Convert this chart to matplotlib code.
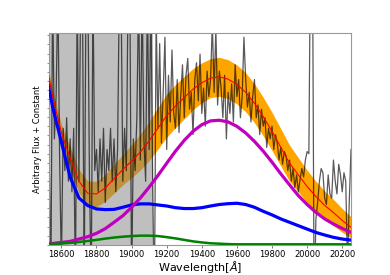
"""Spectrum with fitted model components around 19500 A."""

import matplotlib

matplotlib.use("Agg")
import matplotlib.pyplot as plt
import numpy as np
from matplotlib.ticker import MultipleLocator

# Model grid (Angstrom)
model_wl = [
  18500, 18550, 18600, 18650, 18700, 18750, 18800, 18850, 18900, 18950,
  19000, 19050, 19100, 19150, 19200, 19250, 19300, 19350, 19400, 19450,
  19500, 19550, 19600, 19650, 19700, 19750, 19800, 19850, 19900, 19950,
  20000, 20050, 20100, 20150, 20200, 20250,
]

# Total model (red) and its uncertainty (orange band)
model_total = [
  0.920, 0.700, 0.530, 0.410, 0.300, 0.243, 0.240, 0.268, 0.312, 0.355,
  0.395, 0.438, 0.490, 0.550, 0.610, 0.655, 0.695, 0.735, 0.765, 0.787,
  0.793, 0.782, 0.757, 0.720, 0.668, 0.605, 0.535, 0.460, 0.385, 0.330,
  0.275, 0.228, 0.186, 0.152, 0.115, 0.082,
]
model_err = [
  0.020, 0.030, 0.040, 0.050, 0.055, 0.058, 0.060, 0.063, 0.068, 0.072,
  0.078, 0.085, 0.092, 0.098, 0.102, 0.102, 0.100, 0.097, 0.094, 0.092,
  0.092, 0.092, 0.092, 0.092, 0.092, 0.091, 0.090, 0.088, 0.085, 0.081,
  0.077, 0.072, 0.067, 0.062, 0.056, 0.050,
]

# Components
comp_blue = [
  0.856, 0.651, 0.485, 0.319, 0.221, 0.185, 0.169, 0.166, 0.167, 0.177,
  0.188, 0.193, 0.193, 0.188, 0.183, 0.175, 0.171, 0.171, 0.175, 0.183,
  0.190, 0.194, 0.196, 0.190, 0.177, 0.158, 0.141, 0.122, 0.106, 0.090,
  0.074, 0.058, 0.046, 0.035, 0.027, 0.022,
]
comp_magenta = [
  0.002, 0.006, 0.011, 0.016, 0.027, 0.038, 0.054, 0.076, 0.106, 0.137,
  0.177, 0.221, 0.272, 0.327, 0.385, 0.442, 0.493, 0.536, 0.567, 0.585,
  0.588, 0.580, 0.559, 0.528, 0.488, 0.442, 0.390, 0.335, 0.283, 0.232,
  0.190, 0.153, 0.122, 0.098, 0.077, 0.058,
]
comp_green = [
  0.003, 0.004, 0.006, 0.009, 0.013, 0.018, 0.023, 0.029, 0.034, 0.038,
  0.041, 0.043, 0.043, 0.041, 0.036, 0.030, 0.023, 0.016, 0.011, 0.007,
  0.005, 0.003, 0.002, 0.002, 0.002, 0.002, 0.002, 0.002, 0.002, 0.002,
  0.002, 0.002, 0.002, 0.002, 0.002, 0.002,
]

# Observed spectrum, 10 A sampling from 18530 A
spec_start = 18530
spec_step = 10
spec_flux = [
  # 18530 - 18620
  0.45, -0.20, 1.20, 0.50, 0.70, 1.20, 0.40, -0.10, 0.55, 0.35,
  # 18630 - 18720
  0.60, 0.30, 0.50, 0.25, 0.55, -0.20, 1.20, 0.30, 1.20, 1.20,
  # 18730 - 18820
  -0.20, 1.20, 1.30, 0.30, -0.20, 1.20, 0.35, 0.45, 0.25, 0.50,
  # 18830 - 18920
  0.30, 0.55, 0.20, 0.45, 0.35, 0.55, 0.30, 0.50, 0.25, 0.45,
  # 18930 - 19020
  1.20, 1.20, 0.30, 0.55, 0.35, 1.20, 1.20, -0.20, 0.50, 0.35,
  # 19030 - 19120
  0.60, 1.20, 0.40, 1.20, 0.50, 0.30, 1.20, 0.45, 1.20, 0.30,
  # 19130 - 19220
  -0.30, 1.10, 0.55, 0.95, 0.48, 0.72, 0.98, 0.45, 0.80, 0.58,
  # 19230 - 19320
  0.92, 0.62, 0.55, 0.78, 0.53, 0.70, 0.85, 0.60, 0.80, 0.88,
  # 19330 - 19420
  0.64, 0.72, 0.52, 0.78, 0.86, 0.68, 0.90, 0.62, 0.74, 0.56,
  # 19430 - 19520
  0.82, 0.70, 0.78, 1.05, 0.72, 1.02, 0.66, 0.82, 0.74, 0.60,
  # 19530 - 19620
  0.80, 0.50, 0.72, 0.62, 0.76, 0.58, 0.85, 0.70, 0.78, 0.60,
  # 19630 - 19720
  0.70, 0.98, 0.78, 0.65, 0.72, 0.58, 0.70, 0.78, 0.60, 0.66,
  # 19730 - 19820
  0.52, 0.64, 0.56, 0.60, 0.46, 0.55, 0.50, 0.56, 0.45, 0.52,
  # 19830 - 19920
  0.48, 0.40, 0.46, 0.38, 0.44, 0.42, 0.35, 0.40, 0.30, 0.36,
  # 19930 - 20020
  0.27, 0.33, 0.25, 0.31, 0.36, 0.32, 0.40, 0.44, 0.43, 1.50,
  # 20030 - 20120
  1.50, -0.30, 0.12, 0.20, 0.30, 0.36, 0.34, 0.22, 0.19, 0.33,
  # 20130 - 20220
  0.24, 0.22, 0.40, 0.30, 0.24, 0.38, 0.33, 0.25, 0.34, 0.30,
  # 20230 - 20250
  -0.10, 0.20, 0.45,
]

masked_region = (18500, 19120)
xlim = (18528, 20250)


def make_plot():
  spec_wl = spec_start + spec_step * np.arange(len(spec_flux))
  total = np.array(model_total)
  err = np.array(model_err)

  fig, ax = plt.subplots(figsize=(3.9, 2.75), dpi=100)

  ax.fill_between(model_wl, total - err, total + err, color="orange", lw=0, zorder=1)
  ax.axvspan(*masked_region, color="gray", alpha=0.5, lw=0, zorder=1.5)
  ax.plot(spec_wl, spec_flux, color="k", alpha=0.65, lw=0.9, zorder=2)
  ax.plot(model_wl, model_total, color="r", lw=0.8, zorder=3)
  ax.plot(model_wl, comp_blue, color="b", lw=2.3, zorder=3)
  ax.plot(model_wl, comp_magenta, color="m", lw=2.3, zorder=3)
  ax.plot(model_wl, comp_green, color="g", lw=1.8, zorder=3)

  ax.set_xlim(*xlim)
  ax.set_ylim(0, 1)
  ax.xaxis.set_major_locator(MultipleLocator(200))
  ax.yaxis.set_major_locator(MultipleLocator(0.043))
  ax.tick_params(axis="x", labelsize=6, length=2, width=0.6, pad=1.5, color="#666666")
  ax.tick_params(axis="y", labelleft=False, length=1.8, width=0.5, color="#666666")
  for spine in ax.spines.values():
    spine.set_color("#999999")

  ax.set_xlabel(r"Wavelength[$\AA$]", fontsize=8, labelpad=0.5)
  ax.set_ylabel("Arbitrary Flux + Constant", fontsize=6, labelpad=3)

  plt.savefig("out.png", dpi=100)
  plt.close("all")


if __name__ == "__main__":
  make_plot()
